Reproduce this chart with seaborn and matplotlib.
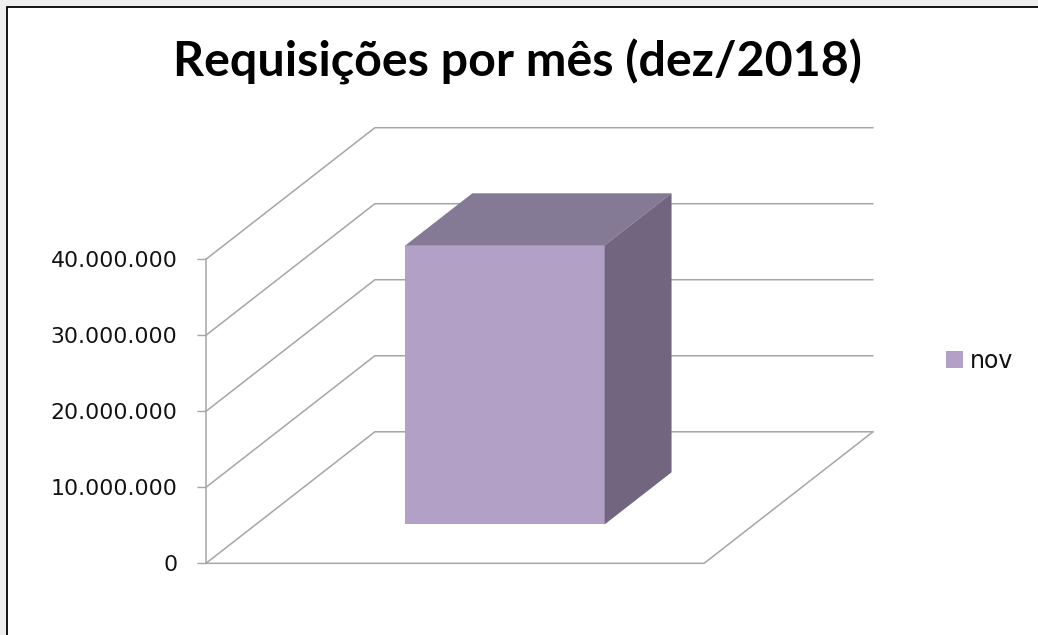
#import packages
import matplotlib
matplotlib.use("Agg")
import matplotlib.pyplot as plt
import matplotlib.transforms as mtransforms
from matplotlib.patches import Polygon, Rectangle
from matplotlib.ticker import FuncFormatter
import pandas as pd
import seaborn as sns

#data
meses = ["nov"]
requisicoes = [36700000]
ticks = [0, 10000000, 20000000, 30000000, 40000000]

#colors
cor_frente = "#b2a0c7"
cor_topo = "#857a96"
cor_lado = "#716580"
cor_grade = "#a6a6a6"

W, H = 1038, 635
sns.set_style("white")
plt.rcParams['font.family'] = ['DejaVu Sans']

fig = plt.figure(figsize=(W / 100, H / 100), dpi=100)
fig.patch.set_facecolor("#efefef")
#white chart area with the black frame (top and left visible)
fig.add_artist(Rectangle((7 / W, -0.1), 1.2, 1.1 - 7 / H, transform=fig.transFigure,
                         facecolor="white", edgecolor="black", lw=1.3, zorder=-10))

ax = fig.add_axes([206 / W, (H - 563.3) / H, 667 / W, 435.6 / H])
ax.patch.set_alpha(0)

#oblique depth of the box (data units) and bar position inside it
prof_x, prof_y = 0.339, 17.3e6
frente, espessura = 0.296, 0.396

df = pd.DataFrame({"mes": meses, "requisicoes": requisicoes})
sns.barplot(data=df, x="mes", y="requisicoes", hue="mes", palette=[cor_frente],
            width=0.4, saturation=1, linewidth=0, ax=ax, zorder=3)

#walls and floor gridlines
for t in ticks:
    ax.plot([-0.5, -0.5 + prof_x, 0.5 + prof_x], [t, t + prof_y, t + prof_y],
            color=cor_grade, lw=1.1, zorder=1, clip_on=False)
ax.plot([-0.5, 0.5, 0.5 + prof_x], [0, 0, prof_y], color=cor_grade, lw=1.1, zorder=1, clip_on=False)

#push the bar into the box and give it a top and side
sx, sy = frente * prof_x, frente * prof_y
dx, dy = espessura * prof_x, espessura * prof_y
bar = ax.patches[0]
bar.set_transform(mtransforms.Affine2D().translate(sx, sy) + ax.transData)
x0 = bar.get_x()
x1 = x0 + bar.get_width()
h = bar.get_height()
topo = [(x0 + sx, h + sy), (x1 + sx, h + sy), (x1 + sx + dx, h + sy + dy), (x0 + sx + dx, h + sy + dy)]
lado = [(x1 + sx, sy), (x1 + sx + dx, sy + dy), (x1 + sx + dx, h + sy + dy), (x1 + sx, h + sy)]
ax.add_patch(Polygon(topo, closed=True, facecolor=cor_topo, edgecolor="none", zorder=3))
ax.add_patch(Polygon(lado, closed=True, facecolor=cor_lado, edgecolor="none", zorder=3))

ax.set_xlim(-0.5, 0.5 + prof_x)
ax.set_ylim(0, 40e6 + prof_y)
ax.set_xticks([])
ax.set_yticks(ticks)
ax.yaxis.set_major_formatter(FuncFormatter(lambda v, p: f"{v:,.0f}".replace(",", ".")))
ax.set(xlabel="", ylabel="")
ax.tick_params(axis="y", left=True, direction="out", length=6.5, width=1, color=cor_grade,
               pad=14, labelsize=15.8, labelcolor="#111111")
for s in ["top", "right", "bottom"]:
    ax.spines[s].set_visible(False)
ax.spines["left"].set_color(cor_grade)
ax.spines["left"].set_linewidth(1.1)
ax.spines["left"].set_bounds(0, 40e6)

ax.legend([bar], meses, loc="center left", bbox_to_anchor=(946 / W, 1 - 361 / H),
          bbox_transform=fig.transFigure, frameon=False, labelcolor="#111111",
          fontsize=17, handlelength=0.7, handleheight=0.75, handletextpad=0.3,
          borderpad=0, borderaxespad=0)

fig.text(517 / W, 1 - 62 / H, "Requisições por mês (dez/2018)", ha="center", va="center",
         fontsize=34.8, fontweight="bold", color="black", family=["Lato", "DejaVu Sans"])

plt.savefig("out.png", dpi=100, facecolor=fig.get_facecolor())
